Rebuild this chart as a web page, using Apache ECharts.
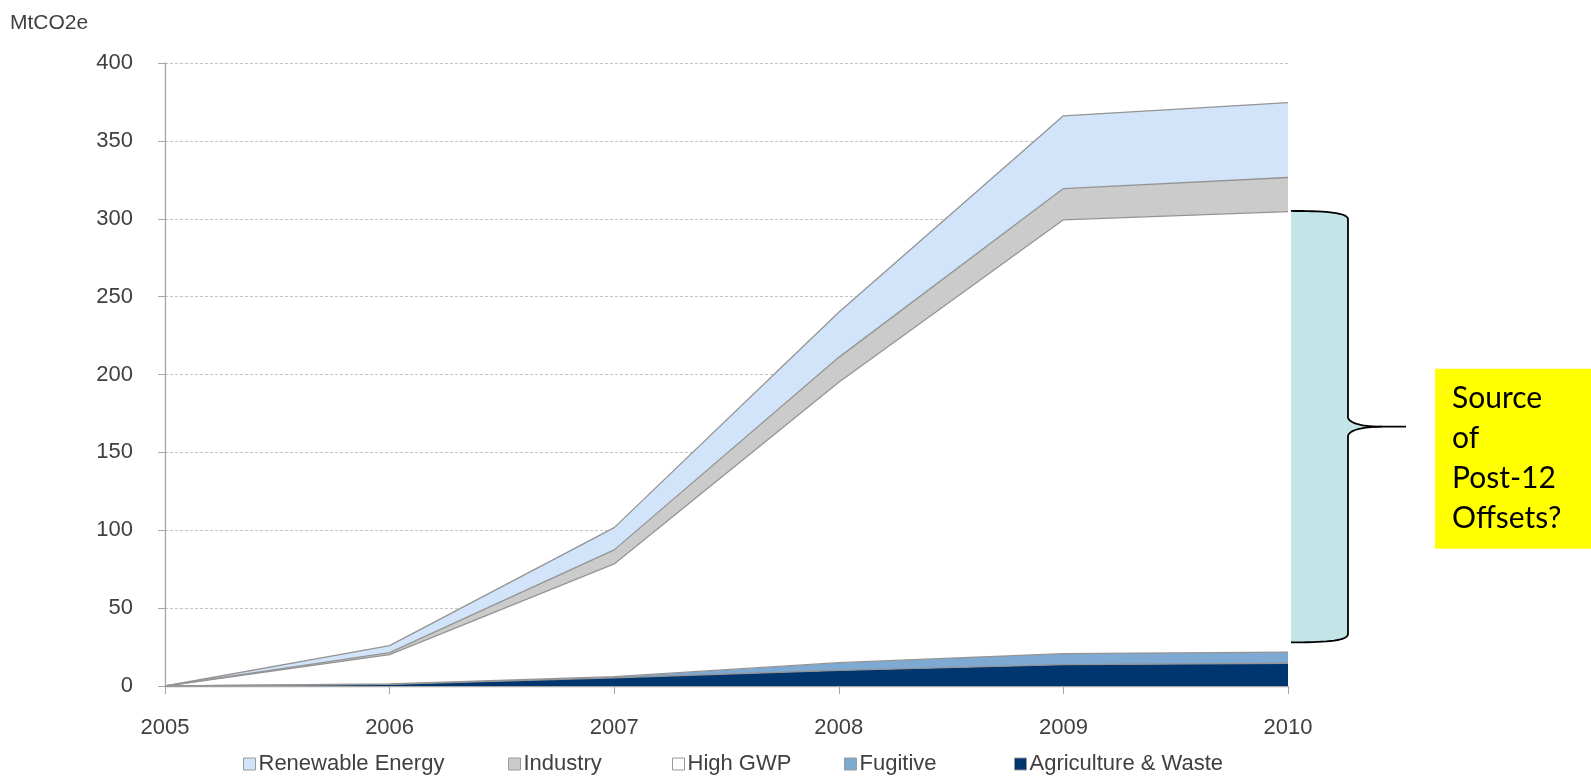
<!DOCTYPE html>
<html>
<head>
<meta charset="utf-8">
<script src="https://cdn.jsdelivr.net/npm/echarts@6/dist/echarts.min.js"></script>
<style>
  html, body { margin: 0; padding: 0; background: #ffffff; }
  #chart { width: 1591px; height: 776px; }
</style>
</head>
<body>
<div id="chart"></div>
<script>
// Offset issuance by project type, stacked (MtCO2e)
const years = ['2005', '2006', '2007', '2008', '2009', '2010'];
const agricultureWaste = [0, 1.0, 5.3, 10.0, 13.7, 14.6];
const fugitive = [0, 0.3, 0.7, 5.0, 7.1, 7.2];
const highGwp = [0, 18.8, 72.4, 180.0, 278.5, 282.8];
const industry = [0, 1.3, 9.0, 16.0, 20.1, 21.9];
const renewableEnergy = [0, 4.5, 14.3, 29.0, 46.7, 48.0];

const legendNames = ['Renewable Energy', 'Industry', 'High GWP', 'Fugitive', 'Agriculture & Waste'];
const legendLeft = [243, 508, 672, 844, 1014];

// Span of the bracket on the right (value range it covers)
const bracketTop = 305;
const bracketBottom = 28;
const calloutLines = ['Source', 'of', 'Post-12', 'Offsets?'];

const FONT = '"Liberation Sans", Arial, sans-serif';
const TEXT = '#404040';
const EDGE = '#949494';

function areaSeries(name, data, fill) {
  return {
    name: name,
    type: 'line',
    stack: 'total',
    data: data,
    symbol: 'none',
    smooth: false,
    itemStyle: { color: fill, borderColor: '#9a9a9a', borderWidth: 1 },
    lineStyle: { color: EDGE, width: 1.3 },
    areaStyle: { color: fill, opacity: 1 },
    emphasis: { disabled: true },
    z: 2
  };
}

const chart = echarts.init(document.getElementById('chart'), null, { renderer: 'canvas' });

const legends = legendNames.map(function (name, i) {
  return {
    data: [name],
    left: legendLeft[i],
    top: 753,
    padding: 0,
    icon: 'rect',
    itemWidth: 12,
    itemHeight: 12,
    itemStyle: { borderColor: '#9a9a9a', borderWidth: 1 },
    textStyle: { fontFamily: FONT, fontSize: 22, color: TEXT, padding: [0, 0, 0, -2] }
  };
});

const option = {
  animation: false,
  backgroundColor: '#ffffff',
  title: {
    text: 'MtCO2e',
    left: 5,
    top: 8,
    textStyle: { fontFamily: FONT, fontSize: 21, fontWeight: 'normal', color: TEXT }
  },
  grid: { left: 165, right: 303, top: 63, bottom: 90, containLabel: false },
  legend: legends,
  xAxis: {
    type: 'category',
    data: years,
    boundaryGap: false,
    axisLine: { lineStyle: { color: '#a6a6a6', width: 1.3 } },
    axisTick: { show: true, length: 8, lineStyle: { color: '#a6a6a6' } },
    axisLabel: { fontFamily: FONT, fontSize: 22, color: TEXT, margin: 31 },
    splitLine: { show: false }
  },
  yAxis: {
    type: 'value',
    min: 0,
    max: 400,
    interval: 50,
    axisLine: { show: true, lineStyle: { color: '#a6a6a6', width: 1.3 } },
    axisTick: { show: true, length: 7, lineStyle: { color: '#a6a6a6' } },
    axisLabel: { fontFamily: FONT, fontSize: 22, color: TEXT, margin: 32 },
    splitLine: { show: true, lineStyle: { color: '#c4c4c4', type: [3, 2], width: 1 } }
  },
  series: [
    areaSeries('Agriculture & Waste', agricultureWaste, '#00366f'),
    areaSeries('Fugitive', fugitive, '#7ea9d3'),
    areaSeries('High GWP', highGwp, '#ffffff'),
    areaSeries('Industry', industry, '#cbcbcb'),
    areaSeries('Renewable Energy', renewableEnergy, '#d1e4f9')
  ]
};

chart.setOption(option);

// Sample a cubic Bezier into points (skipping the first point)
function cubic(p0, p1, p2, p3, n) {
  const pts = [];
  for (let i = 1; i <= n; i++) {
    const t = i / n, u = 1 - t;
    pts.push([
      u * u * u * p0[0] + 3 * u * u * t * p1[0] + 3 * u * t * t * p2[0] + t * t * t * p3[0],
      u * u * u * p0[1] + 3 * u * u * t * p1[1] + 3 * u * t * t * p2[1] + t * t * t * p3[1]
    ]);
  }
  return pts;
}

// Bracket and callout, placed from the axis scale
const yTop = chart.convertToPixel({ yAxisIndex: 0 }, bracketTop);
const yBot = chart.convertToPixel({ yAxisIndex: 0 }, bracketBottom);
const xEnd = chart.convertToPixel({ xAxisIndex: 0 }, years[years.length - 1]);
const xL = xEnd + 3;
const xB = xEnd + 60;
const xTip = xEnd + 118;
const yMid = (yTop + yBot) / 2;

const upper = [[xL, yTop]]
  .concat(cubic([xL, yTop], [xL + 30, yTop], [xB - 1, yTop + 1], [xB, yTop + 8], 16))
  .concat([[xB, yMid - 9]])
  .concat(cubic([xB, yMid - 9], [xB + 2, yMid - 2], [xB + 20, yMid], [xB + 34, yMid], 16))
  .concat([[xTip, yMid]]);
const lower = [[xB + 34, yMid]]
  .concat(cubic([xB + 34, yMid], [xB + 20, yMid], [xB + 2, yMid + 2], [xB, yMid + 9], 16))
  .concat([[xB, yBot - 8]])
  .concat(cubic([xB, yBot - 8], [xB - 1, yBot - 1], [xL + 30, yBot], [xL, yBot], 16));

const fillPoints = upper.slice(0, upper.length - 1).concat(lower);

chart.setOption({
  graphic: [
    {
      type: 'polygon',
      shape: { points: fillPoints },
      style: { fill: '#c3e5e8', stroke: null },
      z: 5
    },
    {
      type: 'polyline',
      shape: { points: upper },
      style: { fill: null, stroke: '#000000', lineWidth: 1.8 },
      z: 6
    },
    {
      type: 'polyline',
      shape: { points: lower },
      style: { fill: null, stroke: '#000000', lineWidth: 1.8 },
      z: 6
    },
    {
      type: 'rect',
      shape: { x: 1435, y: yMid - 58, width: 160, height: 180 },
      style: { fill: '#ffff00' },
      z: 5
    },
    {
      type: 'text',
      x: 1452,
      y: yMid + 32,
      style: {
        text: calloutLines.join('\n'),
        font: '30px Lato, "Open Sans", sans-serif',
        fill: '#000000',
        lineHeight: 40,
        verticalAlign: 'middle',
        align: 'left'
      },
      z: 6
    }
  ]
});
</script>
</body>
</html>
